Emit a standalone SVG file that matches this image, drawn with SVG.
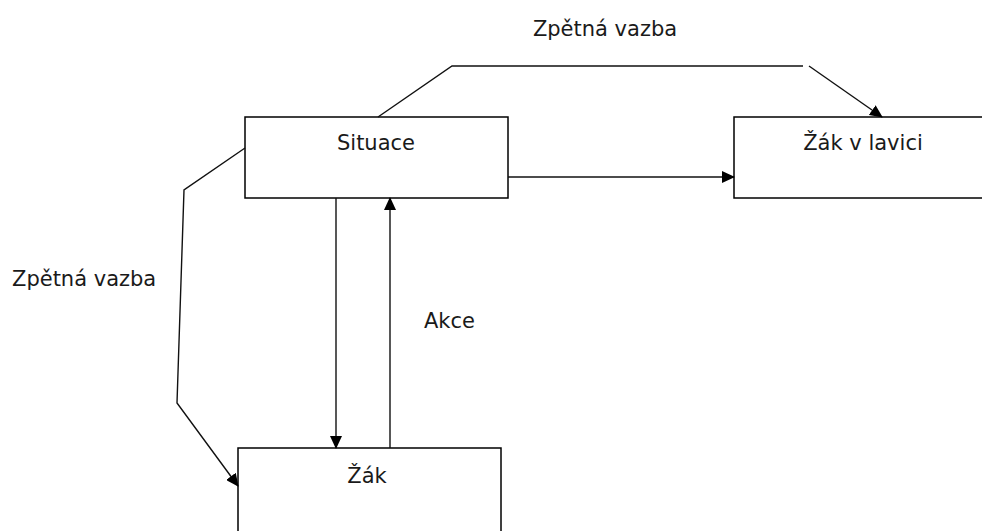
<svg xmlns="http://www.w3.org/2000/svg" width="982" height="531" viewBox="0 0 982 531">
  <defs>
    <style>
      .box { fill: #fff; stroke: #000; stroke-width: 1.5; }
      .lbl { font-family: "DejaVu Sans", "Liberation Sans", sans-serif; font-size: 21px; fill: #1a1a1a; }
      .mid { text-anchor: middle; }
      .wire { fill: none; stroke: #111; stroke-width: 1.4; }
    </style>
    <marker id="arrow" markerUnits="userSpaceOnUse" markerWidth="13" markerHeight="12" refX="12" refY="6" orient="auto">
      <path d="M0,0 L13,6 L0,12 Z" fill="#000"/>
    </marker>
  </defs>
  <rect width="982" height="531" fill="#fff"/>

  <g id="node-situace">
    <rect class="box" x="245" y="117" width="263" height="81"/>
    <text class="lbl mid" x="376" y="150">Situace</text>
  </g>

  <g id="node-zak-v-lavici">
    <rect class="box" x="734" y="117" width="260" height="81"/>
    <text class="lbl mid" x="863" y="150">Žák v lavici</text>
  </g>

  <g id="node-zak">
    <rect class="box" x="238" y="448" width="263" height="100"/>
    <text class="lbl mid" x="367" y="483">Žák</text>
  </g>

  <g id="connectors">
    <!-- feedback over the top to the desk pupil -->
    <polyline class="wire" points="378,117 452,66 803,66"/>
    <line class="wire" x1="809" y1="66" x2="882" y2="117" marker-end="url(#arrow)"/>
    <!-- situation to desk pupil -->
    <line class="wire" x1="508" y1="177" x2="734" y2="177" marker-end="url(#arrow)"/>
    <!-- situation down to pupil -->
    <line class="wire" x1="336" y1="198" x2="336" y2="448" marker-end="url(#arrow)"/>
    <!-- action back up -->
    <line class="wire" x1="390" y1="448" x2="390" y2="198" marker-end="url(#arrow)"/>
    <!-- feedback round the left side -->
    <polyline class="wire" points="245,148 184,190 177,403 238,486" marker-end="url(#arrow)"/>
  </g>

  <g id="labels">
    <text class="lbl mid" x="605" y="36">Zpětná vazba</text>
    <text class="lbl" x="12" y="286">Zpětná vazba</text>
    <text class="lbl" x="424" y="328">Akce</text>
  </g>
</svg>
